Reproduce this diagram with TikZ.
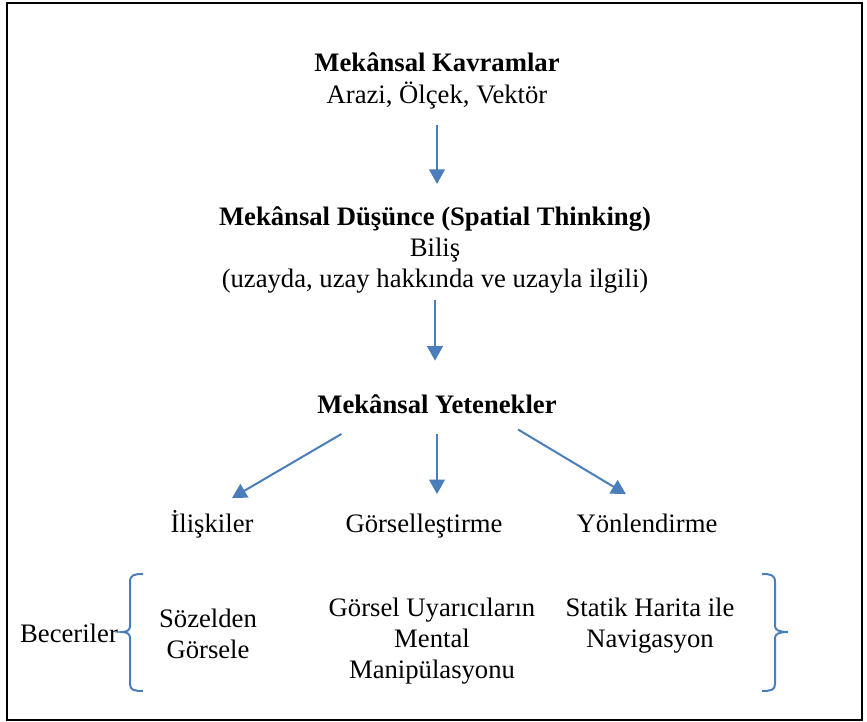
\documentclass[tikz,border=0pt]{standalone}
\usepackage{fontspec}
\setmainfont{Liberation Serif}
\definecolor{arrblue}{HTML}{4A7EBB}
\usetikzlibrary{arrows.meta}

\begin{document}
\begin{tikzpicture}[x=0.45pt,y=-0.45pt,
        txt/.style={inner sep=0pt,align=center,
                    font=\fontsize{12}{14}\selectfont},
        arr/.style={-{Triangle[width=7pt,length=6.5pt]},
                    line width=0.9pt,arrblue},
        brc/.style={line width=0.9pt,arrblue}]
    \useasboundingbox (0,0) rectangle (867,722);
    \draw[line width=0.9pt] (7,3) rectangle (862,720);

    \node[txt] (kavram) at (437,81)
      {\textbf{Mekânsal Kavramlar}\\Arazi, Ölçek, Vektör};
    \node[txt] (dusunce) at (435,250)
      {\textbf{Mekânsal Düşünce (Spatial Thinking)}\\Biliş\\
       (uzayda, uzay hakkında ve uzayla ilgili)};
    \node[txt] (yetenek) at (437,404) {\textbf{Mekânsal Yetenekler}};

    \node[txt,anchor=base] (iliski) at (212,533) {İlişkiler};
    \node[txt,anchor=base] (gorsel) at (424,533) {Görselleştirme};
    \node[txt,anchor=base] (yonlen) at (647,533) {Yönlendirme};

    \node[txt] (beceri) at (69,633) {Beceriler};
    \node[txt] (sozel) at (208,634) {Sözelden\\Görsele};
    \node[txt] (manip) at (432,641)
      {Görsel Uyarıcıların\\Mental\\Manipülasyonu};
    \node[txt] (navig) at (650,626) {Statik Harita ile\\Navigasyon};

    \draw[arr,shorten <=7pt,shorten >=10pt] (kavram.south) -- (kavram.south |- dusunce.north);
    \draw[arr,shorten <=3pt,shorten >=15pt] (dusunce.south) -- (dusunce.south |- yetenek.north);
    \draw[arr,shorten <=9pt] (yetenek.south) -- ([yshift=17.5pt]yetenek.south |- gorsel.base);
    \draw[arr] ([xshift=-43pt,yshift=-9pt]yetenek.south) -- ([xshift=9pt,yshift=15.75pt]iliski.base);
    \draw[arr] ([xshift=36.5pt,yshift=-7pt]yetenek.south) -- ([xshift=-9.5pt,yshift=17.5pt]yonlen.base);

    % Beceriler braces
    \draw[brc] (143,574) .. controls (134,574) and (130,575) .. (130,582)
      -- (130,626) .. controls (130,630) and (127,632) .. (122,632)
      .. controls (127,632) and (130,634) .. (130,638)
      -- (130,684) .. controls (130,690) and (134,691) .. (143,691);
    \draw[brc] (762,574) .. controls (771,574) and (775,575) .. (775,582)
      -- (775,626) .. controls (775,630) and (779,632) .. (788,632)
      .. controls (779,632) and (775,634) .. (775,638)
      -- (775,684) .. controls (775,690) and (771,691) .. (762,691);
\end{tikzpicture}
\end{document}
